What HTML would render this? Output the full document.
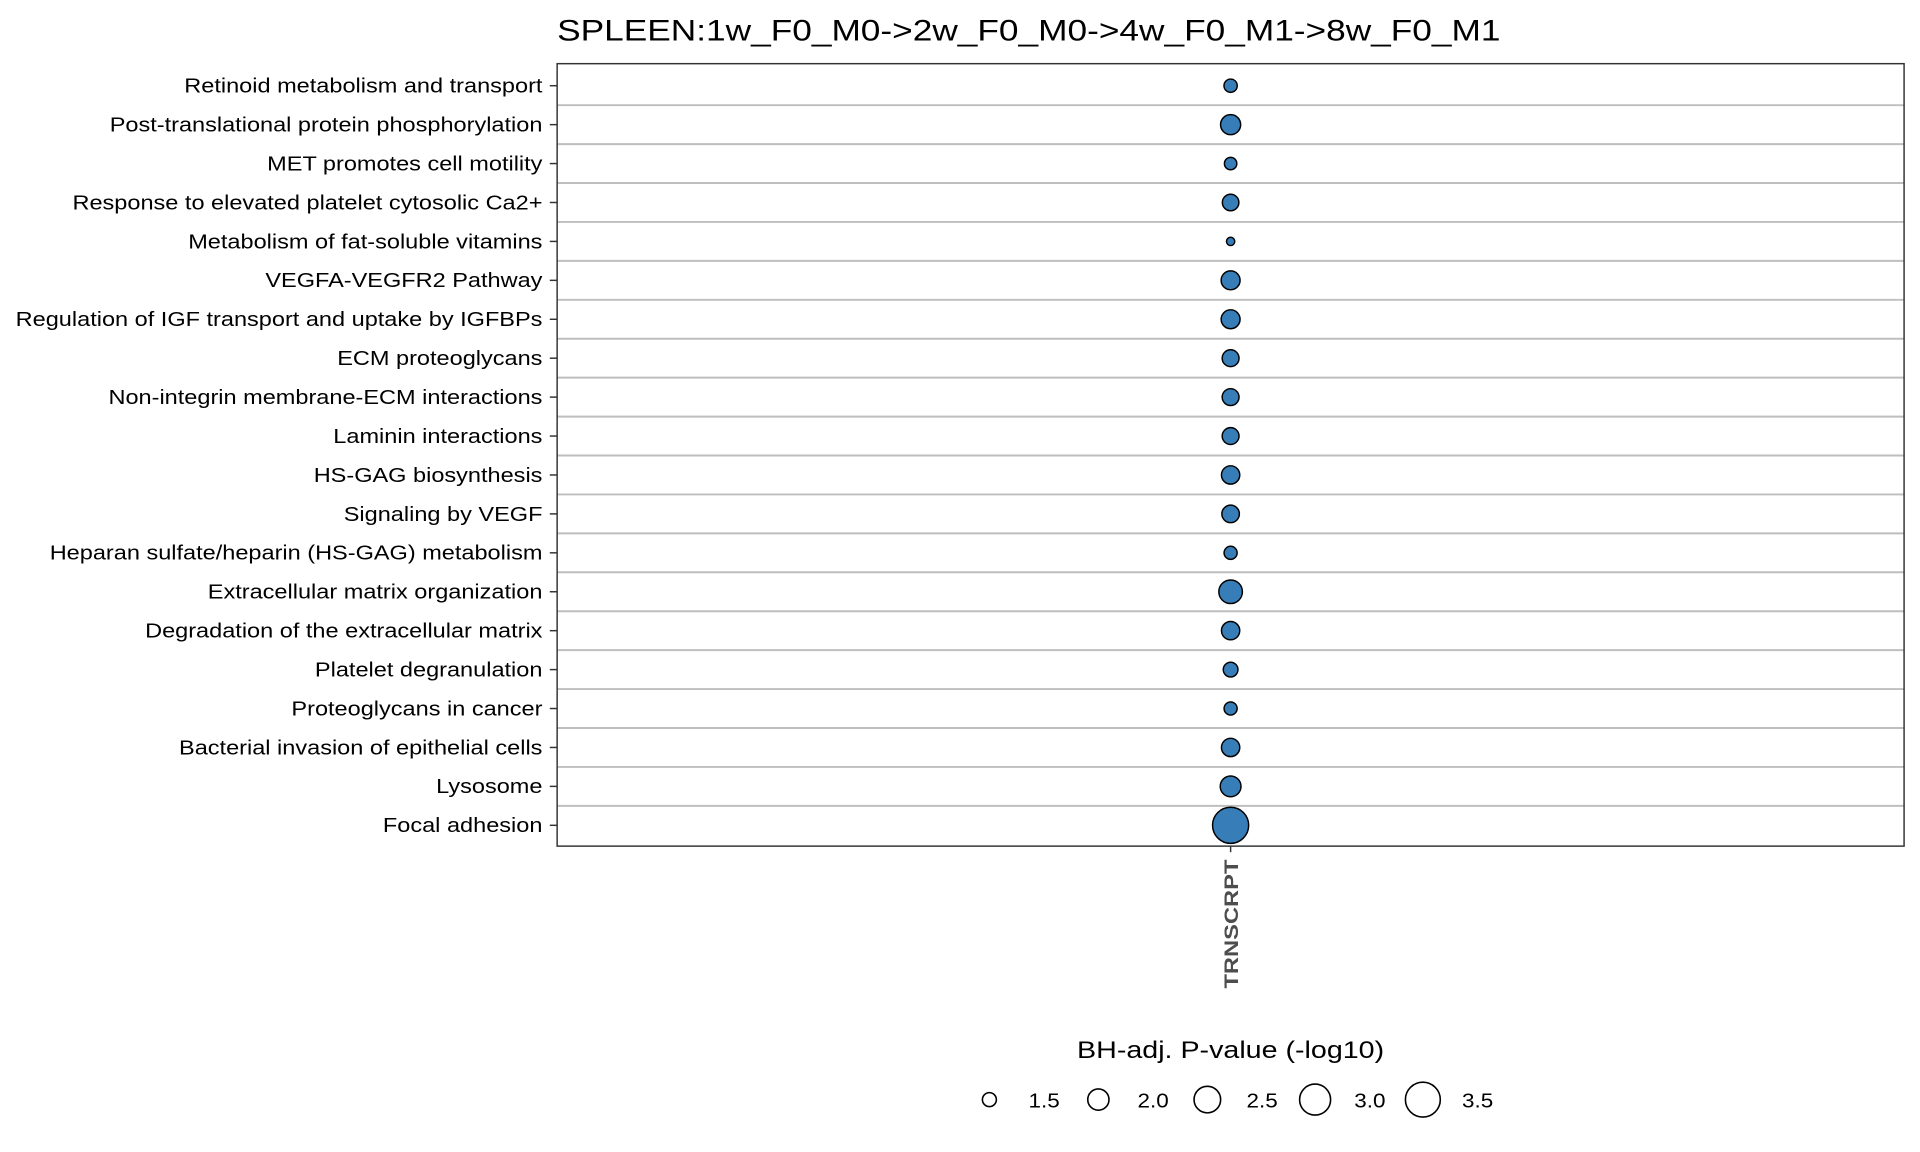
<!DOCTYPE html>
<html><head><meta charset="utf-8">
<style>
html,body{margin:0;padding:0;background:#fff;}
svg{display:block;font-family:"Liberation Sans",Arial,sans-serif;}
</style></head>
<body>
<svg id="chart" width="1920" height="1152" viewBox="0 0 1568 940.8" xmlns="http://www.w3.org/2000/svg">
<text class="st" data-k="1.2" x="455" y="33" font-size="24" fill="#000">SPLEEN:1w_F0_M0-&gt;2w_F0_M0-&gt;4w_F0_M1-&gt;8w_F0_M1</text>
<g id="grid"></g>
<g id="ylabels"></g>
<g id="points"></g>
<rect x="455" y="52" width="1100" height="639" fill="none" stroke="#333" stroke-width="1.2"/>
<line x1="1005" y1="691" x2="1005" y2="696" stroke="#333" stroke-width="1.2"/>
<text class="st" data-k="1.21" transform="translate(1011,702) rotate(-90)" text-anchor="end" font-size="16" font-weight="bold" fill="#4d4d4d">TRNSCRPT</text>
<text class="st" data-k="1.2" x="1005" y="864" text-anchor="middle" font-size="19.5" fill="#000">BH-adj. P-value (-log10)</text>
<g id="legend"></g>
</svg>
<script>
const categories = ["Retinoid metabolism and transport","Post-translational protein phosphorylation","MET promotes cell motility","Response to elevated platelet cytosolic Ca2+","Metabolism of fat-soluble vitamins","VEGFA-VEGFR2 Pathway","Regulation of IGF transport and uptake by IGFBPs","ECM proteoglycans","Non-integrin membrane-ECM interactions","Laminin interactions","HS-GAG biosynthesis","Signaling by VEGF","Heparan sulfate/heparin (HS-GAG) metabolism","Extracellular matrix organization","Degradation of the extracellular matrix","Platelet degranulation ","Proteoglycans in cancer","Bacterial invasion of epithelial cells","Lysosome","Focal adhesion"];
const pvalues = [1.43,1.83,1.39,1.60,1.24,1.75,1.75,1.62,1.62,1.62,1.71,1.66,1.42,2.10,1.71,1.50,1.42,1.71,1.88,3.42];
const legendValues = [1.5,2.0,2.5,3.0,3.5];
const legendLabels = ["1.5","2.0","2.5","3.0","3.5"];

const NS="http://www.w3.org/2000/svg";
const yTop=70, yBot=674, xCol=1005;
function yScale(i){return yTop+i*(yBot-yTop)/(categories.length-1);}
function rScale(v){return Math.sqrt(Math.max(4,36+94.5*(v-1.5)));}
function mk(tag,attrs,parent){const e=document.createElementNS(NS,tag);for(const k in attrs)e.setAttribute(k,attrs[k]);parent.appendChild(e);return e;}
const grid=document.getElementById('grid'),yl=document.getElementById('ylabels'),pts=document.getElementById('points'),lg=document.getElementById('legend');
const step=(yBot-yTop)/(categories.length-1);
for(let i=0;i<categories.length-1;i++){
  const y=yScale(i)+step/2;
  const l=mk('line',{x1:455,x2:1555,y1:y,y2:y,stroke:'#bebebe','stroke-width':1.6},grid);
  
  
}
categories.forEach((c,i)=>{
  const y=yScale(i);
  const t=mk('text',{x:443,y:y+5.6,'text-anchor':'end','font-size':16.5,fill:'#000',class:'st','data-k':1.165},yl);
  t.textContent=c;
  
  
  const tk=mk('line',{x1:449,x2:455,y1:y,y2:y,stroke:'#333','stroke-width':1.2},yl);
  
  
  const p=mk('circle',{cx:xCol,cy:y,r:rScale(pvalues[i]),fill:'#377eb8',stroke:'#000','stroke-width':1.2},pts);
  
  
});
const lx=[808,897,986,1074,1162];
legendValues.forEach((v,i)=>{
  const c=mk('circle',{cx:lx[i],cy:898,r:rScale(v)*0.95,fill:'none',stroke:'#000','stroke-width':1.3},lg);
  
  
  const t=mk('text',{x:lx[i]+32,y:904.5,'font-size':16.5,fill:'#000',class:'st','data-k':1.11},lg);
  t.textContent=legendLabels[i];
  
  
});
document.querySelectorAll('text.st').forEach(t=>{
  const w=t.getComputedTextLength();
  const k=parseFloat(t.getAttribute('data-k'));
  t.setAttribute('textLength',(w*k).toFixed(1));
  t.setAttribute('lengthAdjust','spacingAndGlyphs');
});
</script>
</body></html>
